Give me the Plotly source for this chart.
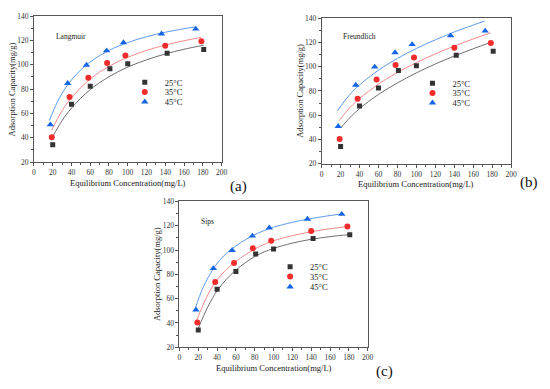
import plotly.graph_objects as go

# ---------------- data ----------------
temps = ["25°C", "35°C", "45°C"]

C25 = [20, 40, 60, 81, 100, 142, 181]
Q25 = [34.2, 67.6, 82.4, 96.8, 100.8, 109.5, 112.6]
C35 = [19, 38, 58, 78, 97.5, 140, 178.5]
Q35 = [40.4, 73.6, 89.4, 101.4, 107.6, 115.6, 119.4]
C45 = [17.5, 36, 56, 77.5, 95.5, 136, 172.5]
Q45 = [50.8, 84.8, 99.8, 111.6, 118.3, 125.5, 129.5]

# fitted curves
lang_c25 = [20, 30, 40, 60, 80, 100, 120, 140, 160, 181]
lang_q25 = [41.0, 54.1, 64.4, 79.6, 90.2, 98.1, 104.1, 108.9, 112.8, 116.2]
lang_c35 = [19, 30, 40, 60, 80, 100, 120, 140, 160, 178]
lang_q35 = [46.3, 62.2, 72.9, 88.3, 98.7, 106.2, 111.8, 116.3, 119.8, 122.5]
lang_c45 = [16.5, 25, 35, 45, 60, 80, 100, 120, 140, 160, 172]
lang_q45 = [54.2, 69.5, 82.5, 92.0, 102.4, 111.8, 118.3, 123.1, 126.8, 129.7, 131.2]

freu_c25 = [20, 30, 40, 60, 80, 100, 120, 140, 160, 181]
freu_q25 = [49.3, 58.1, 65.4, 77.1, 86.6, 94.9, 102.2, 108.8, 114.8, 120.7]
freu_c35 = [18.5, 30, 40, 60, 80, 100, 120, 140, 160, 178.5]
freu_q35 = [55.5, 66.3, 73.7, 85.6, 95.2, 103.3, 110.5, 117.0, 122.9, 127.9]
freu_c45 = [16.5, 30, 40, 60, 80, 100, 120, 140, 160, 172]
freu_q45 = [63.4, 77.2, 84.9, 97.1, 106.8, 115.0, 122.1, 128.6, 134.3, 137.6]

sips_c25 = [20, 30, 40, 50, 60, 70, 80, 90, 100, 120, 140, 160, 181]
sips_q25 = [35.5, 53.0, 66.5, 76.0, 83.5, 89.5, 94.6, 98.4, 101.3, 105.7, 108.8, 111.0, 112.7]
sips_c35 = [18, 30, 40, 50, 60, 70, 80, 90, 100, 120, 140, 160, 178]
sips_q35 = [41.5, 63.0, 75.5, 84.0, 90.5, 96.0, 100.8, 104.6, 107.6, 111.8, 115.0, 117.5, 119.3]
sips_c45 = [16.5, 25, 36, 45, 55, 65, 77, 90, 100, 120, 135, 155, 172]
sips_q45 = [51.0, 69.0, 84.5, 93.5, 100.5, 106.0, 111.5, 116.0, 118.8, 122.8, 125.2, 127.8, 129.7]

models = ["Langmuir", "Freundlich", "Sips"]
panel_labels = ["(a)", "(b)", "(c)"]
x_ticks = [0, 20, 40, 60, 80, 100, 120, 140, 160, 180, 200]
y_ticks = [20, 40, 60, 80, 100, 120, 140]
x_title = "Equilibrium Concentration(mg/L)"
y_title = "Adsorption Capacity(mg/g)"

# ---------------- styling ----------------
WIN_W, WIN_H = 550, 389
OFF = 8                        # default page body margin
W, H = WIN_W - OFF, WIN_H - OFF
FONT = "Liberation Serif"
marker_colors = ["#333333", "#F22B2B", "#1565E6"]
line_colors = ["#6E6E6E", "#F58A8A", "#5C9BEE"]
symbols = ["square", "circle", "triangle-up"]
msizes = [5, 6, 6.5]
AX = "#555555"


def fx(px):  # window pixel -> paper x
    return (px - OFF) / W


def fy(py):  # window pixel -> paper y
    return 1 - (py - OFF) / H


# panel boxes in window pixels: (left, right, top, bottom)
boxes = [(32.3, 222.7, 12.3, 161.7),
         (324.3, 516.7, 14.3, 163.3),
         (180.0, 371.0, 202.0, 351.3)]
legend_marker_x = [144.5, 436.5, 292.0]
legend_rows_y = [[80, 90, 100], [81, 91, 101], [269, 279, 289.5]]
model_text_pos = [(52.7, 33.3), (344.3, 33.3), (200.0, 222.3)]
label_pos = [(240, 187), (535, 183), (388, 376)]

points = [(C25, Q25), (C35, Q35), (C45, Q45)]
curves = [
    [(lang_c25, lang_q25), (lang_c35, lang_q35), (lang_c45, lang_q45)],
    [(freu_c25, freu_q25), (freu_c35, freu_q35), (freu_c45, freu_q45)],
    [(sips_c25, sips_q25), (sips_c35, sips_q35), (sips_c45, sips_q45)],
]

fig = go.Figure()
annotations = []
layout = dict(
    width=W, height=H, autosize=False,
    margin=dict(l=0, r=0, t=0, b=0),
    paper_bgcolor="white", plot_bgcolor="white",
    font=dict(family=FONT, size=8, color="#222222"),
)

leg_count = 0
for p in range(3):
    sfx = "" if p == 0 else str(p + 1)
    xa, ya = "x" + sfx, "y" + sfx
    l, r, t, b = boxes[p]
    axis_common = dict(
        showline=True, mirror=True, linecolor=AX, linewidth=1,
        ticks="outside", ticklen=3, tickwidth=1, tickcolor=AX,
        showgrid=False, zeroline=False,
        tickfont=dict(family=FONT, size=7.5, color="#333333"),
    )
    layout["xaxis" + sfx] = dict(
        axis_common, domain=[fx(l), fx(r)], range=[0, 200],
        tickvals=x_ticks, anchor=ya,
        minor=dict(dtick=10, tick0=0, ticks="outside", ticklen=2, tickcolor=AX),
    )
    layout["yaxis" + sfx] = dict(
        axis_common, domain=[fy(b), fy(t)], range=[20, 140],
        tickvals=y_ticks, anchor=xa,
        minor=dict(dtick=10, tick0=0, ticks="outside", ticklen=2, tickcolor=AX),
    )

    # fitted curves
    for i in range(3):
        cx, cy = curves[p][i]
        fig.add_trace(go.Scatter(
            x=cx, y=cy, mode="lines", xaxis=xa, yaxis=ya,
            line=dict(color=line_colors[i], width=1, shape="spline", smoothing=1.0),
            showlegend=False, hoverinfo="skip",
        ))
    # experimental points, each with its own one-row legend
    for i in range(3):
        leg_count += 1
        leg = "legend" if leg_count == 1 else "legend%d" % leg_count
        layout[leg] = dict(
            x=fx(legend_marker_x[p] - 20), y=fy(legend_rows_y[p][i]),
            xanchor="left", yanchor="middle",
            bgcolor="rgba(0,0,0,0)", borderwidth=0,
            font=dict(family=FONT, size=8.5, color="#222222"),
            itemwidth=30,
        )
        px_, py_ = points[i]
        fig.add_trace(go.Scatter(
            x=px_, y=py_, mode="markers", xaxis=xa, yaxis=ya, name=temps[i],
            marker=dict(symbol=symbols[i], size=msizes[i], color=marker_colors[i],
                        line=dict(width=0)),
            legend=leg, showlegend=True,
        ))

    # model name
    mx, my = model_text_pos[p]
    annotations.append(dict(
        text=models[p], x=fx(mx), y=fy(my), xref="paper", yref="paper",
        xanchor="left", yanchor="middle", showarrow=False,
        font=dict(family=FONT, size=7.5, color="#222222"),
    ))
    # axis titles
    annotations.append(dict(
        text=x_title, x=fx((l + r) / 2), y=fy(b + 21), xref="paper", yref="paper",
        xanchor="center", yanchor="middle", showarrow=False,
        font=dict(family=FONT, size=8.5, color="#222222"),
    ))
    annotations.append(dict(
        text=y_title, x=fx(l - 22), y=fy((t + b) / 2), xref="paper", yref="paper",
        xanchor="center", yanchor="middle", showarrow=False, textangle=-90,
        font=dict(family=FONT, size=8.5, color="#222222"),
    ))
    # panel label
    bx, by = label_pos[p]
    annotations.append(dict(
        text=panel_labels[p], x=fx(bx), y=fy(by), xref="paper", yref="paper",
        xanchor="center", yanchor="middle", showarrow=False,
        font=dict(family=FONT, size=15, color="#111111"),
    ))

layout["annotations"] = annotations
fig.update_layout(**layout)
fig.write_html("out.html")
